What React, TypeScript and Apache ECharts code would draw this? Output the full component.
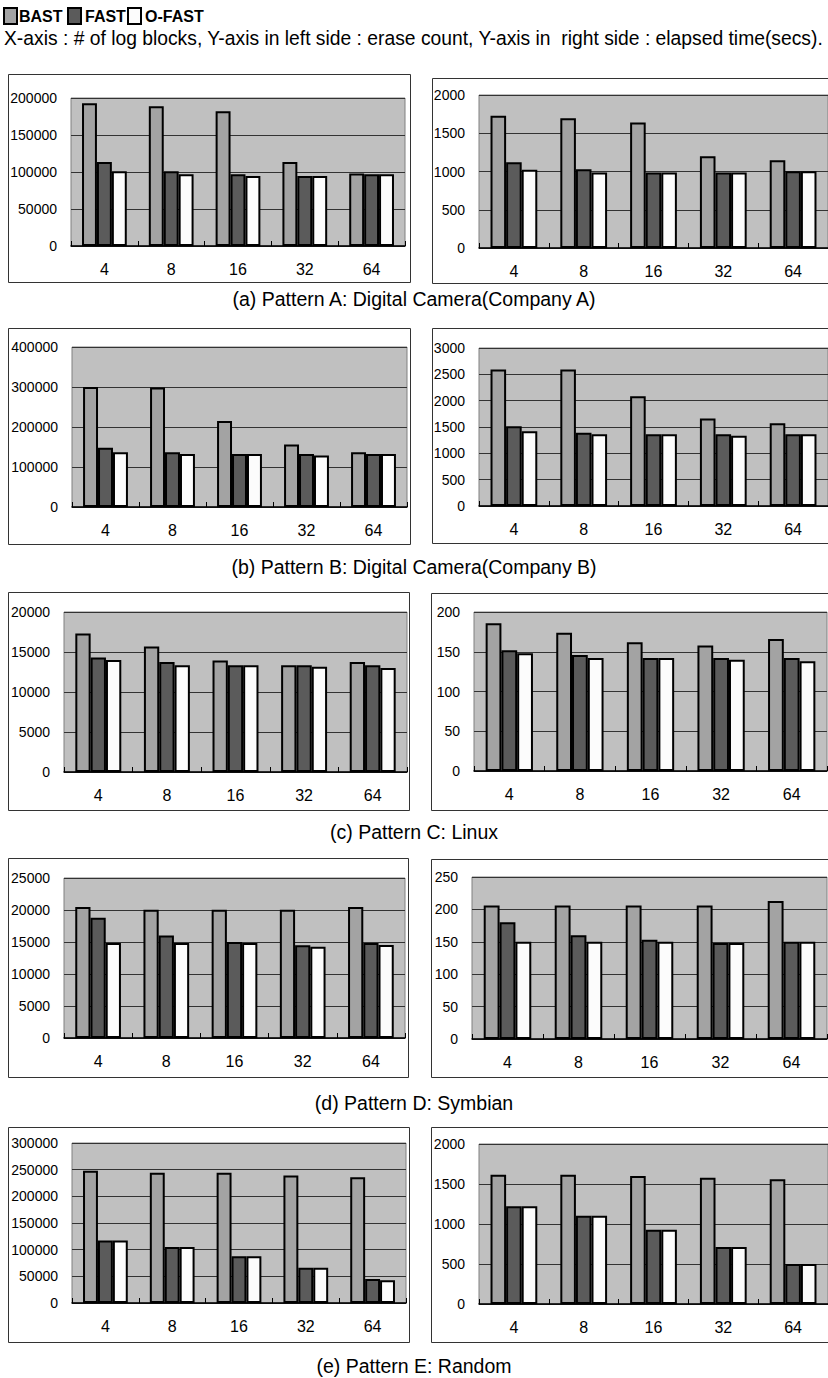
import React, { useEffect, useRef } from "react";
import * as echarts from "echarts";

// ---------- data ----------
const categories = ["4", "8", "16", "32", "64"];
const seriesNames = ["BAST", "FAST", "O-FAST"];

const aEraseBast = [193000, 189000, 182000, 113500, 98000];
const aEraseFast = [113500, 101000, 97000, 94500, 97000];
const aEraseOfast = [101000, 97000, 94500, 94500, 97000];
const aTimeBast = [1730, 1696, 1639, 1200, 1148];
const aTimeFast = [1122, 1030, 987, 987, 1004];
const aTimeOfast = [1022, 987, 987, 987, 1004];

const bEraseBast = [300000, 299000, 215000, 156000, 137000];
const bEraseFast = [148000, 137000, 132500, 132500, 132500];
const bEraseOfast = [137000, 132500, 132500, 129000, 132500];
const bTimeBast = [2590, 2590, 2085, 1661, 1573];
const bTimeFast = [1516, 1390, 1364, 1364, 1364];
const bTimeOfast = [1421, 1364, 1364, 1333, 1364];

const cEraseBast = [17300, 15700, 13950, 13350, 13750];
const cEraseFast = [14300, 13750, 13350, 13350, 13350];
const cEraseOfast = [14000, 13350, 13350, 13150, 13000];
const cTimeBast = [186, 174, 162, 158, 166];
const cTimeFast = [152, 146, 142, 142, 142];
const cTimeOfast = [148, 142, 142, 140, 138];

const dEraseBast = [20450, 20050, 20050, 20050, 20450];
const dEraseFast = [18800, 16000, 15000, 14500, 14850];
const dEraseOfast = [14850, 14850, 14850, 14250, 14550];
const dTimeBast = [206, 206, 206, 206, 213];
const dTimeFast = [180, 160, 153, 148, 150];
const dTimeOfast = [150, 150, 150, 148, 150];

const eEraseBast = [248000, 244000, 244000, 239000, 236000];
const eEraseFast = [117000, 105000, 87500, 66000, 45000];
const eEraseOfast = [117000, 105000, 87500, 66000, 42500];
const eTimeBast = [1617, 1617, 1600, 1579, 1558];
const eTimeFast = [1221, 1104, 929, 712, 500];
const eTimeOfast = [1221, 1104, 929, 712, 500];

const axisMax = [200000, 2000, 400000, 3000, 20000, 200, 25000, 250, 300000, 2000];
const axisStep = [50000, 500, 100000, 500, 5000, 50, 5000, 50, 50000, 500];

const captions = [
  "(a) Pattern A: Digital Camera(Company A)",
  "(b) Pattern B: Digital Camera(Company B)",
  "(c) Pattern C: Linux",
  "(d) Pattern D: Symbian",
  "(e) Pattern E: Random",
];
const subtitle =
  "X-axis : # of log blocks, Y-axis in left side : erase count, Y-axis in  right side : elapsed time(secs).";

const panelData = [
  [aEraseBast, aEraseFast, aEraseOfast],
  [aTimeBast, aTimeFast, aTimeOfast],
  [bEraseBast, bEraseFast, bEraseOfast],
  [bTimeBast, bTimeFast, bTimeOfast],
  [cEraseBast, cEraseFast, cEraseOfast],
  [cTimeBast, cTimeFast, cTimeOfast],
  [dEraseBast, dEraseFast, dEraseOfast],
  [dTimeBast, dTimeFast, dTimeOfast],
  [eEraseBast, eEraseFast, eEraseOfast],
  [eTimeBast, eTimeFast, eTimeOfast],
];

// ---------- layout ----------
// plot area [left, top, width, height]
const plotRects = [
  [71, 98, 334, 148],
  [479, 95, 350, 153],
  [72, 347, 335, 160],
  [479, 348, 349, 158],
  [64, 612, 343, 160],
  [474, 612, 353, 159],
  [64, 878, 341, 160],
  [472, 877, 355, 162],
  [72, 1143, 334, 160],
  [479, 1144, 350, 160],
];
// outer boxes [x1, y1, x2, y2]
const boxRects = [
  [8, 74, 410, 282],
  [432, 78, 860, 283],
  [8, 328, 410, 544],
  [432, 328, 860, 543],
  [8, 592, 409, 810],
  [431, 593, 860, 810],
  [8, 858, 408, 1077],
  [431, 859, 860, 1077],
  [8, 1127, 409, 1342],
  [431, 1127, 860, 1342],
];
const captionY = [299, 567, 832, 1103, 1366];
const legendLeft = [3, 67, 127];

const colors = ["#a3a3a3", "#5b5b5b", "#fcfcfc"];
const FONT = "'Liberation Sans', Arial, sans-serif";

export default function App() {
  const ref = useRef<HTMLDivElement>(null);
  useEffect(() => {
    if (!ref.current) return;
    const chart = echarts.init(ref.current, undefined, { renderer: "svg" });

    const grid = plotRects.map((r) => ({
      left: r[0],
      top: r[1],
      width: r[2],
      height: r[3],
      show: true,
      backgroundColor: "#c0c0c0",
      borderColor: "#808080",
      borderWidth: 1,
      containLabel: false,
    }));

    const xAxis = plotRects.map((_, i) => ({
      type: "category",
      gridIndex: i,
      data: categories,
      axisLine: { show: true, lineStyle: { color: "#000", width: 1.5 } },
      axisTick: { show: true, inside: true, length: 5, alignWithLabel: false, lineStyle: { color: "#000" } },
      axisLabel: { fontSize: 16, color: "#000", margin: 15, fontFamily: FONT },
      splitLine: { show: false },
    }));

    const yAxis = plotRects.map((_, i) => ({
      type: "value",
      gridIndex: i,
      min: 0,
      max: axisMax[i],
      interval: axisStep[i],
      axisLine: { show: false },
      axisTick: { show: false },
      axisLabel: {
        fontSize: 14,
        color: "#000",
        margin: 14,
        fontFamily: FONT,
        formatter: (v: number) => String(v),
      },
      splitLine: { show: true, lineStyle: { color: "#333", width: 1 } },
    }));

    const series: any[] = [];
    panelData.forEach((sets, i) => {
      sets.forEach((vals, k) => {
        series.push({
          type: "bar",
          name: seriesNames[k],
          xAxisIndex: i,
          yAxisIndex: i,
          data: vals,
          barGap: "0%",
          barCategoryGap: "33%",
          itemStyle: { color: colors[k], borderColor: "#000", borderWidth: 2 },
          emphasis: { disabled: true },
        });
      });
    });

    const legend = seriesNames.map((n, k) => ({
      left: legendLeft[k],
      top: 7,
      data: [n],
      icon: "rect",
      itemWidth: 13,
      itemHeight: 16,
      padding: 0,
      textStyle: {
        fontSize: 16,
        fontWeight: "bold",
        color: "#000",
        fontFamily: FONT,
        padding: [0, 0, 0, k === 0 ? -3 : -1],
      },
      selectedMode: false,
    }));

    const graphic: any[] = [];
    boxRects.forEach((b) => {
      graphic.push({
        type: "rect",
        shape: { x: b[0] + 0.5, y: b[1] + 0.5, width: b[2] - b[0], height: b[3] - b[1] },
        style: { fill: "none", stroke: "#333", lineWidth: 1 },
        silent: true,
        z: -1,
      });
    });
    captions.forEach((c, i) => {
      graphic.push({
        type: "text",
        x: 414,
        y: captionY[i],
        style: {
          text: c,
          fill: "#000",
          font: `19.5px ${FONT}`,
          textAlign: "center",
          textVerticalAlign: "middle",
        },
      });
    });
    graphic.push({
      type: "text",
      x: 4,
      y: 38,
      style: {
        text: subtitle,
        fill: "#000",
        font: `19.3px ${FONT}`,
        textAlign: "left",
        textVerticalAlign: "middle",
      },
    });

    chart.setOption({
      animation: false,
      backgroundColor: "#fff",
      textStyle: { fontFamily: FONT },
      legend,
      grid,
      xAxis,
      yAxis,
      series,
      graphic,
    });
    return () => chart.dispose();
  }, []);

  return (
    <div
      ref={ref}
      style={{ position: "absolute", left: 0, top: 0, width: 828, height: 1378 }}
    />
  );
}
